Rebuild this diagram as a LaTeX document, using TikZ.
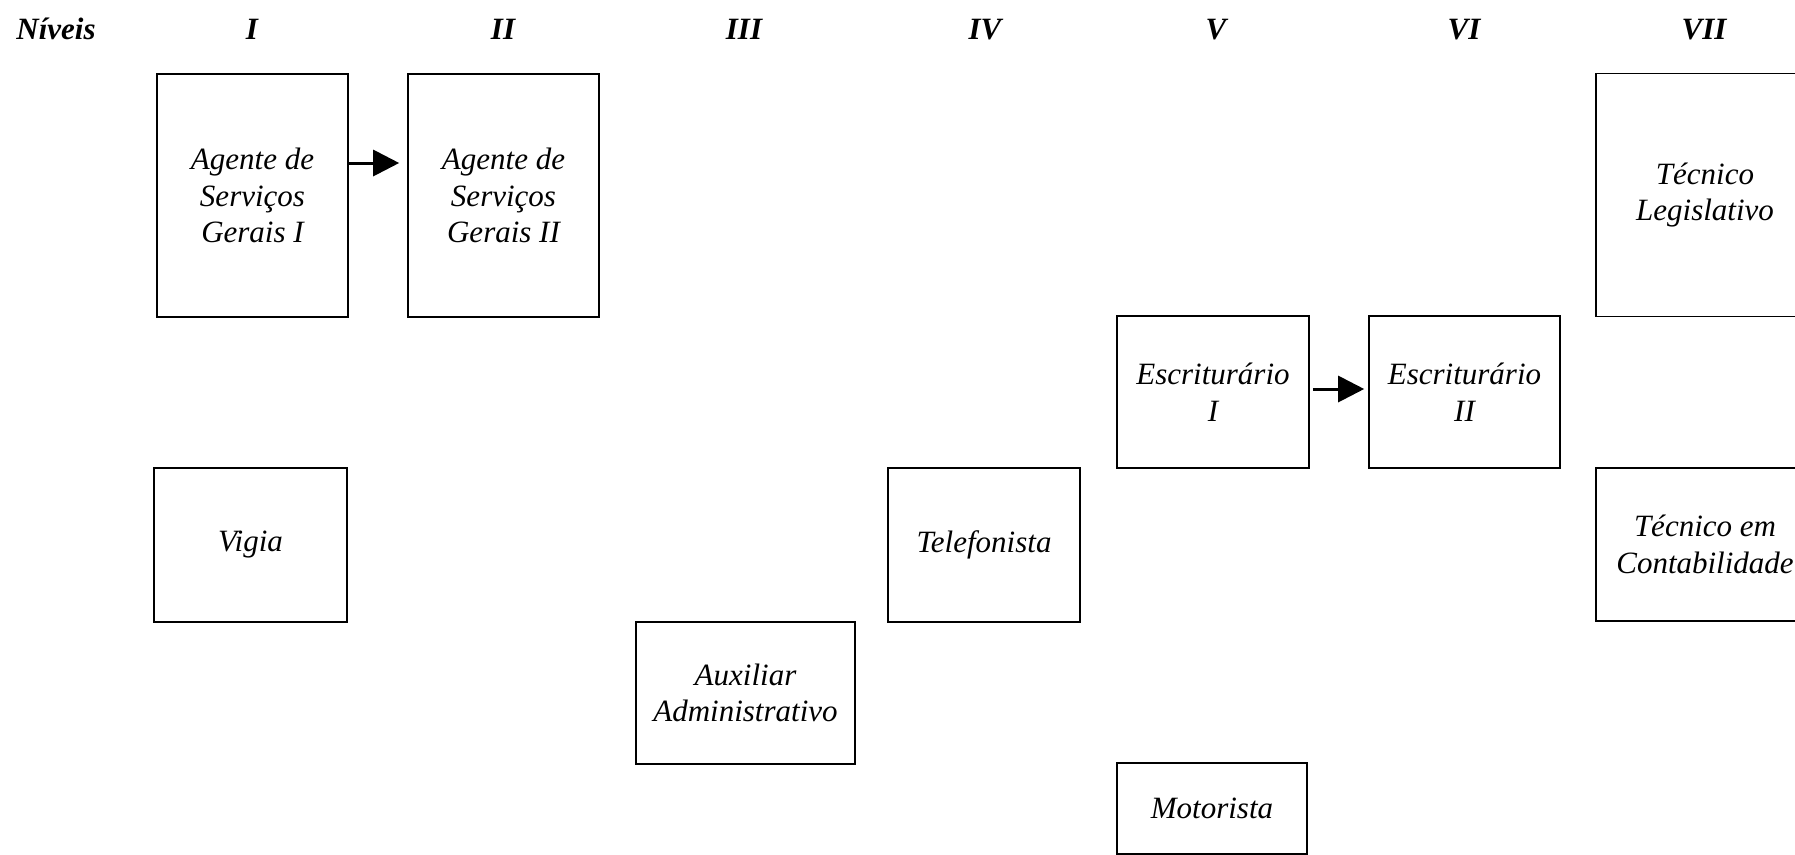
\documentclass[tikz,border=0pt]{standalone}
\usepackage{fontspec}
\setmainfont{Liberation Serif}
\usetikzlibrary{arrows.meta}
\tikzset{
  cargo/.style={draw=black, line width=1.6pt, inner sep=0pt, align=center,
    font=\fontsize{31}{36.5}\selectfont\itshape},
  nivel/.style={anchor=base, inner sep=0pt, font=\fontsize{31}{36}\selectfont\bfseries\itshape},
  seta/.style={line width=3pt, -{Triangle[length=26pt,width=26pt]}}
}
\begin{document}
\begin{tikzpicture}[x=1pt,y=1pt]
\useasboundingbox (0,0) rectangle (1795,-854);
\clip (0,0) rectangle (1795,-854);
% level headings
\node[nivel] (hniv) at (56,-39) {Níveis};
\node[nivel] (h1) at (252,-39) {I};
\node[nivel] (h2) at (503,-39) {II};
\node[nivel] (h3) at (744,-39) {III};
\node[nivel] (h4) at (985,-39) {IV};
\node[nivel] (h5) at (1216,-39) {V};
\node[nivel] (h6) at (1464,-39) {VI};
\node[nivel] (h7) at (1704,-39) {VII};
% boxes
\node[cargo, minimum width=191pt, minimum height=243pt] (asg1) at (252.5,-195.5) {Agente de\\Serviços\\Gerais I};
\node[cargo, minimum width=191pt, minimum height=243pt] (asg2) at (503.5,-195.5) {Agente de\\Serviços\\Gerais II};
\node[cargo, minimum width=218pt, minimum height=243pt] (tleg) at (1705,-195) {Técnico\\Legislativo};
\node[cargo, minimum width=192pt, minimum height=152pt] (esc1) at (1213,-392) {Escriturário\\I};
\node[cargo, minimum width=191pt, minimum height=152pt] (esc2) at (1464.5,-392) {Escriturário\\II};
\node[cargo, minimum width=193pt, minimum height=154pt] (vigia) at (250.5,-545) {Vigia};
\node[cargo, minimum width=192pt, minimum height=154pt] (tel) at (984,-545) {Telefonista};
\node[cargo, minimum width=218pt, minimum height=153pt] (tcont) at (1705,-544.5) {Técnico em\\Contabilidade};
\node[cargo, minimum width=219pt, minimum height=142pt] (aux) at (745.5,-693) {Auxiliar\\Administrativo};
\node[cargo, minimum width=190pt, minimum height=91pt] (mot) at (1212,-808.5) {Motorista};
% arrows
\draw[seta] ([yshift=32.5pt]asg1.east) -- ([yshift=32.5pt,xshift=-8pt]asg2.west);
\draw[seta] ([yshift=3pt,xshift=3pt]esc1.east) -- ([yshift=3pt,xshift=-4pt]esc2.west);
\end{tikzpicture}
\end{document}
